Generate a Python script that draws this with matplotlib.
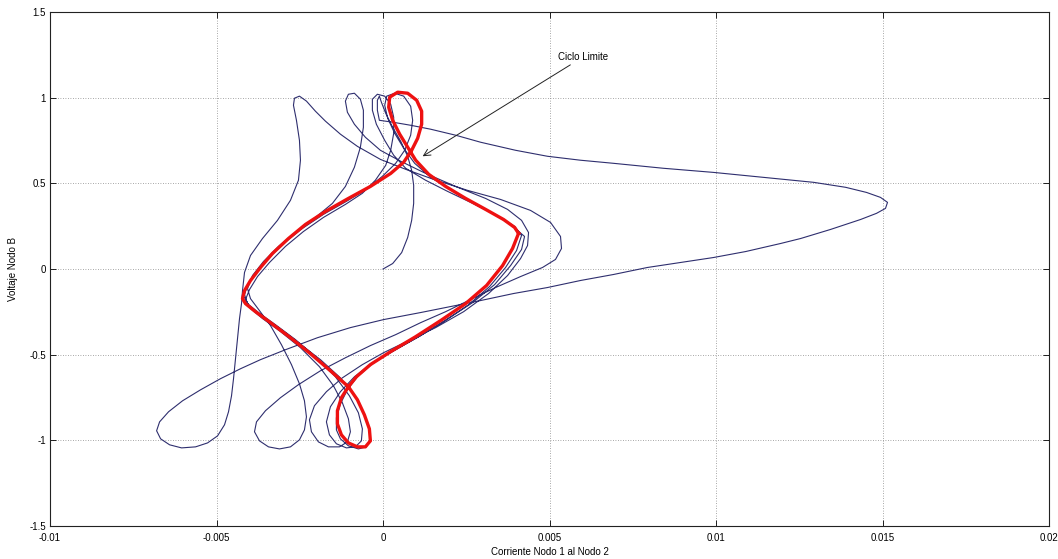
import numpy as np
import matplotlib
matplotlib.use("Agg")
import matplotlib.pyplot as plt

# ---- data (current in units of 1e-3, voltage) ----
# transient trajectory starting at the origin
traj_x = [0.0, 0.29, 0.56, 0.74, 0.86, 0.92, 0.92, 0.86, 0.74, 0.53, 0.29, 0.08, -0.05, -0.11, -0.17, -0.17, -0.11,
          0.29, 0.83, 1.43, 2.18, 2.93, 3.98, 4.94, 5.93, 6.92, 8.42, 9.92, 11.43, 12.93, 13.89, 14.52, 14.94, 15.15,
          15.09, 14.82, 14.34, 13.44, 12.54, 11.94, 10.89, 9.92, 8.93, 7.94, 6.92, 5.93, 4.94, 3.92, 2.93, 2.03, 1.13,
          0.02, -0.98, -1.97, -2.93, -3.68, -4.28, -4.88, -5.48, -6.02, -6.44, -6.71, -6.80, -6.68, -6.41, -6.05, -5.63,
          -5.27, -4.97, -4.76, -4.64, -4.55, -4.49, -4.43, -4.37, -4.31, -4.25, -4.22, -4.16, -3.98, -3.62, -3.17, -2.78,
          -2.54, -2.48, -2.51, -2.60, -2.69, -2.66, -2.51, -2.30, -2.03, -1.73, -1.28, -0.77, -0.08, 0.68, 1.52, 2.54,
          3.53, 4.43, 5.03, 5.33, 5.36, 5.18, 4.79, 4.13, 3.38, 2.63, 1.88, 1.13, 0.38, -0.38, -1.13, -1.88, -2.54, -3.08,
          -3.53, -3.80, -3.86, -3.71, -3.44, -3.11, -2.78, -2.51, -2.36, -2.30, -2.36, -2.51, -2.75, -3.05, -3.38, -3.71,
          -3.98, -4.07, -3.92, -3.59, -3.14, -2.60, -2.03, -1.52, -1.13, -0.86, -0.68, -0.59, -0.59, -0.68, -0.86, -1.04,
          -1.13, -1.07, -0.86, -0.53, -0.08, 0.53, 1.28, 2.18, 3.08, 3.74, 4.16, 4.37, 4.34, 4.13, 3.74, 3.17, 2.42, 1.58,
          0.77, 0.02, -0.62, -1.22, -1.70, -2.06, -2.21, -2.15, -1.94, -1.64, -1.31, -1.07, -0.98, -1.04, -1.22, -1.49,
          -1.91, -2.48, -3.08, -3.62, -3.98, -4.13, -4.01, -3.77, -3.41, -2.93, -2.39, -1.79, -1.13, -0.62,
          -0.23, 0.08, 0.23, 0.32, 0.32, 0.23, 0.05, -0.17, -0.32, -0.32, -0.20, 0.05, 0.32, 0.68, 1.28, 1.94, 2.63, 3.29,
          3.83, 4.25, 4.16, 3.83, 3.35, 2.69, 1.91, 1.13, 0.38, -0.32, -0.86, -1.28, -1.58, -1.70, -1.61, -1.40, -1.10,
          -0.83, -0.65, -0.62, -0.74, -1.01, -1.43, -2.03, -2.63, -3.23, -3.74, -4.07, -4.16, -4.07, -3.86, -3.50, -2.99,
          -2.42, -1.79, -1.10, -0.50,
          -0.02, 0.38, 0.65, 0.83, 0.89, 0.83, 0.62, 0.35, 0.11, 0.05, 0.14, 0.35, 0.62, 0.95, 1.43, 2.09, 2.84, 3.47,
          3.95, 4.16, 4.01, 3.68, 3.20, 2.57, 1.82, 1.07, 0.32, -0.32, -0.77, -1.07, -1.28, -1.40, -1.40, -1.28, -1.04,
          -0.74, -0.50, -0.38, -0.44, -0.62, -0.86, -1.28, -1.88, -2.54, -3.14, -3.68, -4.01, -4.16]
traj_v = [0.0, 0.032, 0.096, 0.184, 0.284, 0.383, 0.488, 0.576, 0.658, 0.746, 0.827, 0.909, 0.974, 1.009, 0.985, 0.927, 0.868,
          0.857, 0.839, 0.816, 0.781, 0.740, 0.693, 0.658, 0.635, 0.617, 0.588, 0.564, 0.535, 0.506, 0.477, 0.447, 0.418, 0.389,
          0.354, 0.325, 0.289, 0.231, 0.178, 0.149, 0.102, 0.067, 0.038, 0.009, -0.032, -0.067, -0.108, -0.143, -0.184, -0.219, -0.254,
          -0.295, -0.342, -0.401, -0.471, -0.529, -0.582, -0.640, -0.705, -0.769, -0.833, -0.892, -0.944, -0.991, -1.026, -1.044, -1.038,
          -1.015, -0.974, -0.909, -0.833, -0.740, -0.640, -0.523, -0.406, -0.289, -0.202, -0.126, -0.020, 0.079, 0.178, 0.284, 0.401,
          0.518, 0.635, 0.751, 0.868, 0.956, 0.997, 1.009, 0.980, 0.921, 0.863, 0.787, 0.716, 0.640, 0.582, 0.523, 0.459,
          0.406, 0.342, 0.272, 0.190, 0.120, 0.056, 0.009, -0.044, -0.108, -0.178, -0.249, -0.313, -0.383, -0.447, -0.518, -0.594, -0.675, -0.751,
          -0.827, -0.892, -0.950, -1.003, -1.038, -1.050, -1.038, -0.997, -0.939, -0.863, -0.769, -0.670, -0.558, -0.442, -0.330, -0.243,
          -0.173, -0.114, -0.038, 0.044, 0.132, 0.219, 0.301, 0.383, 0.482, 0.594, 0.711, 0.827, 0.927, 0.991, 1.026, 1.020,
          0.980, 0.915, 0.845, 0.769, 0.693, 0.629, 0.558, 0.482, 0.412, 0.348, 0.284, 0.213, 0.137, 0.061, -0.038, -0.143, -0.249, -0.342,
          -0.418, -0.488, -0.558, -0.635, -0.716, -0.798, -0.880, -0.950, -1.009, -1.038, -1.038, -1.009, -0.950, -0.874, -0.781, -0.681,
          -0.570, -0.459, -0.365, -0.289, -0.231, -0.178, -0.120, -0.044, 0.038, 0.132, 0.219, 0.301, 0.377, 0.442,
          0.518, 0.605, 0.693, 0.792, 0.886, 0.962, 1.009, 1.020, 0.991, 0.927, 0.845, 0.751, 0.664, 0.588, 0.518, 0.453, 0.389, 0.325,
          0.260, 0.190, 0.114, 0.020, -0.091, -0.196, -0.295, -0.389, -0.471, -0.547, -0.629, -0.716, -0.804, -0.892, -0.968, -1.020, -1.044,
          -1.038, -1.003, -0.933, -0.839, -0.740, -0.629, -0.512, -0.412, -0.325, -0.254, -0.202, -0.149, -0.096, -0.032, 0.050, 0.149,
          0.237, 0.319, 0.395, 0.465,
          0.541, 0.617, 0.693, 0.781, 0.868, 0.950, 1.009, 1.026, 1.009, 0.956, 0.880, 0.792, 0.705, 0.617, 0.535, 0.459, 0.371, 0.307,
          0.249, 0.196, 0.108, 0.009, -0.102, -0.208, -0.307, -0.395, -0.477, -0.553, -0.629, -0.705, -0.787, -0.868, -0.939, -0.991, -1.032,
          -1.050, -1.038, -0.991, -0.909, -0.822, -0.734, -0.635, -0.529, -0.430, -0.342, -0.272, -0.219, -0.167]

# limit cycle (closed)
cycle_x = [4.07, 3.89, 3.59, 3.11, 2.48, 1.73, 0.98, 0.23, -0.38, -0.80, -1.04, -1.25, -1.37, -1.37, -1.25, -1.04, -0.77,
           -0.53, -0.38, -0.41, -0.56, -0.77, -1.04, -1.58, -2.18, -2.78, -3.38, -3.83, -4.13, -4.22, -4.16, -3.98, -3.68,
           -3.32, -2.84, -2.33, -1.73, -1.04, -0.38, 0.23, 0.62, 0.86, 1.04, 1.16, 1.16, 1.01, 0.74, 0.44, 0.20, 0.17,
           0.29, 0.50, 0.74, 0.98, 1.37, 1.88, 2.48, 3.08, 3.62, 3.95, 4.07]
cycle_v = [0.208, 0.120, 0.020, -0.096, -0.202, -0.301, -0.395, -0.482, -0.558, -0.629, -0.687, -0.751, -0.827, -0.904, -0.968,
           -1.015, -1.038, -1.038, -1.003, -0.933, -0.851, -0.763, -0.687, -0.594, -0.494, -0.401, -0.313, -0.249, -0.202,
           -0.173, -0.126, -0.067, 0.009, 0.091, 0.178, 0.260, 0.336, 0.412, 0.482, 0.558, 0.623, 0.693, 0.763, 0.845,
           0.921, 0.985, 1.026, 1.032, 1.003, 0.944, 0.868, 0.787, 0.711, 0.635, 0.553, 0.482, 0.412, 0.348, 0.289, 0.243, 0.208]

x_ticks = [-0.01, -0.005, 0, 0.005, 0.01, 0.015, 0.02]
x_tick_labels = ["-0.01", "-0.005", "0", "0.005", "0.01", "0.015", "0.02"]
y_ticks = [-1.5, -1, -0.5, 0, 0.5, 1, 1.5]
y_tick_labels = ["-1.5", "-1", "-0.5", "0", "0.5", "1", "1.5"]

annot_text = "Ciclo Limite"
annot_xy = (1.19e-3, 0.658)
annot_text_xy = (5.25e-3, 1.237)

# ---- plot ----
plt.rcParams['font.family'] = ['Liberation Sans', 'DejaVu Sans']
fig = plt.figure(figsize=(10.58, 5.59), dpi=100)
ax = fig.add_axes([0.0473, 0.0590, 0.9442, 0.9195])

tx = np.array(traj_x) * 1e-3
cx = np.array(cycle_x) * 1e-3
ax.plot(tx, traj_v, color='#2e2e6e', lw=0.8, solid_joinstyle='round')
ax.plot(cx, cycle_v, color='#ee1111', lw=2.4, solid_joinstyle='round')

ax.set_xlim(-0.01, 0.02)
ax.set_ylim(-1.5, 1.5)
ax.set_xticks(x_ticks)
ax.set_xticklabels(x_tick_labels)
ax.set_yticks(y_ticks)
ax.set_yticklabels(y_tick_labels)
ax.tick_params(direction='in', length=4, width=0.6, labelsize=7, top=True, right=True,
               labeltop=False, labelright=False)
ax.tick_params(axis='x', pad=5)
ax.tick_params(axis='y', pad=3)
ax.grid(True, linestyle=(0, (1, 2)), color='#8a8a8a', linewidth=0.6)
for s in ax.spines.values():
    s.set_linewidth(0.8)
    s.set_color('#222222')

ax.set_xlabel("Corriente Nodo 1 al Nodo 2", fontsize=7, labelpad=3)
ax.set_ylabel("Voltaje Nodo B", fontsize=7, labelpad=8)

ax.annotate(annot_text, xy=annot_xy, xytext=annot_text_xy, fontsize=7,
            ha='left', va='center',
            arrowprops=dict(arrowstyle='->', color='#222222', lw=0.7,
                            shrinkA=0, shrinkB=0, mutation_scale=12))

fig.savefig("out.png", dpi=100)
